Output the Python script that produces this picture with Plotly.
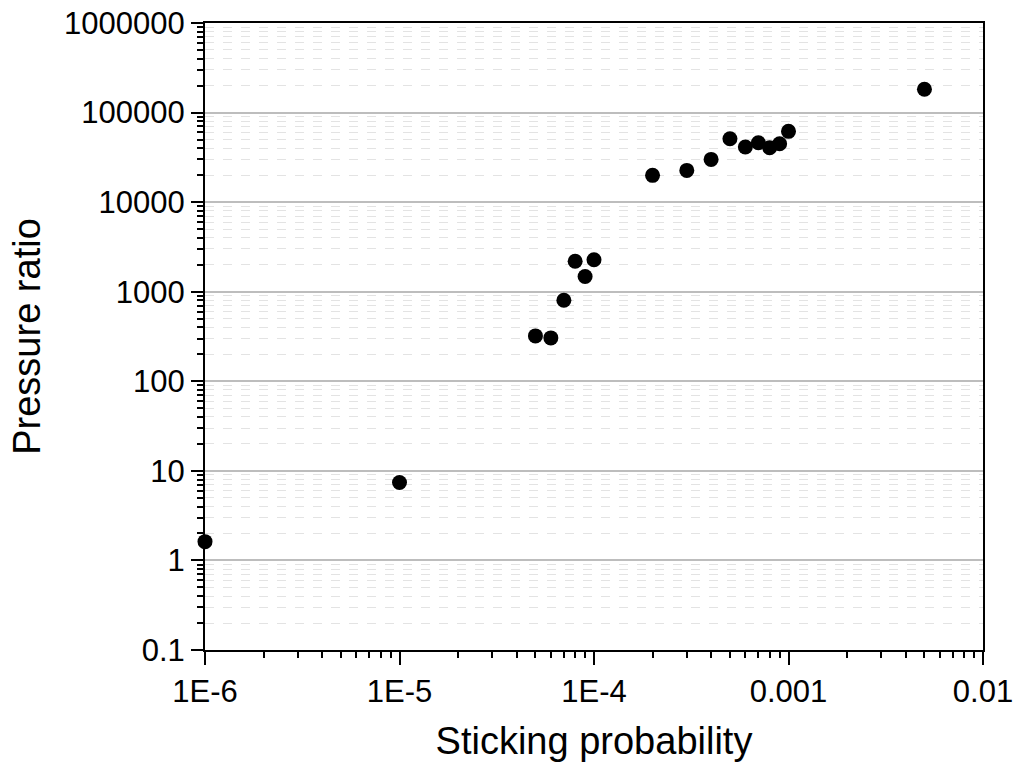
import plotly.graph_objects as go

# Sticking probability vs. pressure ratio
sticking_probability = [1e-6, 1e-5, 5e-5, 6e-5, 7e-5, 8e-5, 9e-5, 1e-4,
                        2e-4, 3e-4, 4e-4, 5e-4, 6e-4, 7e-4, 8e-4, 9e-4,
                        1e-3, 5e-3]
pressure_ratio = [1.62, 7.4, 321, 305, 804, 2190, 1480, 2270,
                  19900, 22600, 30000, 51000, 41200, 46100, 40600, 44900,
                  61700, 182000]

x_tickvals = [1e-6, 1e-5, 1e-4, 1e-3, 1e-2]
x_ticktext = ["1E-6", "1E-5", "1E-4", "0.001", "0.01"]
y_tickvals = [0.1, 1, 10, 100, 1000, 10000, 100000, 1000000]
y_ticktext = ["0.1", "1", "10", "100", "1000", "10000", "100000", "1000000"]

FONT = "Liberation Sans, Arial, sans-serif"

fig = go.Figure()
fig.add_trace(go.Scatter(
    x=sticking_probability,
    y=pressure_ratio,
    mode="markers",
    marker=dict(symbol="circle", size=15, color="black",
                line=dict(width=0)),
    cliponaxis=False,
    showlegend=False,
))

fig.update_layout(
    width=1017,
    height=762,
    margin=dict(l=205, r=34, t=23, b=112),
    plot_bgcolor="white",
    paper_bgcolor="white",
    font=dict(family=FONT, color="black"),
)

fig.update_xaxes(
    type="log",
    range=[-6, -2],
    automargin=False,
    tickvals=x_tickvals,
    ticktext=x_ticktext,
    tickfont=dict(size=31),
    ticks="outside",
    ticklen=13,
    tickwidth=2,
    tickcolor="black",
    showline=True,
    linewidth=2,
    linecolor="black",
    mirror=True,
    showgrid=False,
    zeroline=False,
    minor=dict(dtick="D1", ticks="outside", ticklen=6, tickwidth=2,
               tickcolor="black", showgrid=False),
    title=dict(text="Sticking probability", font=dict(size=38), standoff=22),
)

fig.update_yaxes(
    type="log",
    range=[-1, 6],
    automargin=False,
    tickvals=y_tickvals,
    ticktext=y_ticktext,
    tickfont=dict(size=31),
    ticks="outside",
    ticklen=12,
    tickwidth=2,
    tickcolor="black",
    showline=True,
    linewidth=2,
    linecolor="black",
    mirror=True,
    showgrid=True,
    gridcolor="#bdbdbd",
    gridwidth=1.5,
    zeroline=False,
    minor=dict(dtick="D1", ticks="outside", ticklen=6, tickwidth=2,
               tickcolor="black", showgrid=True, gridcolor="#e3e3e3",
               gridwidth=1, griddash="dash"),
    title=dict(text="Pressure ratio", font=dict(size=38), standoff=12),
)

fig.write_html("out.html")
